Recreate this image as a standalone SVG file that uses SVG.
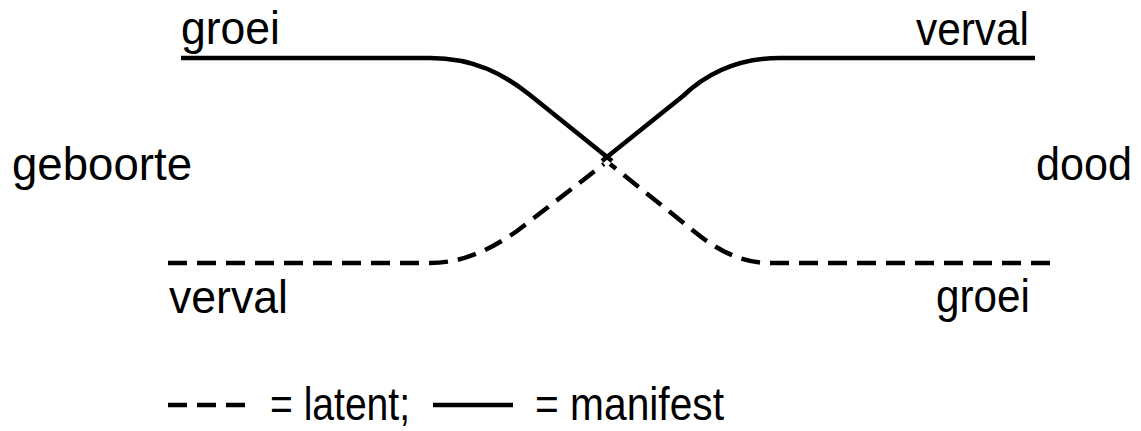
<svg xmlns="http://www.w3.org/2000/svg" width="1141" height="431" viewBox="0 0 1141 431">
<style>
text{font-family:"Liberation Sans",Arial,sans-serif;font-size:47px;fill:#000}
.solid{fill:none;stroke:#000;stroke-width:4.5}
.dash{fill:none;stroke:#000;stroke-width:4.5;stroke-dasharray:19 10}
</style>
<rect width="1141" height="431" fill="#fff"/>
<g id="connectors">
<path class="solid" d="M181,58 H430 C475,58 505,75 530,95 L612,161"/>
<path class="solid" d="M1035,58 H780 C735,58 705,75 683,96 L602,161"/>
<path class="dash" d="M168,263 H430 C462,263 490,250 517,231 L604,164"/>
<path class="dash" d="M1050,263 H770 C745,263 722,253 700,236 L610,164"/>
</g>
<g id="label-groei-top"><text x="181" y="44" textLength="99" lengthAdjust="spacingAndGlyphs">groei</text></g>
<g id="label-verval-top"><text x="916" y="45" textLength="113" lengthAdjust="spacingAndGlyphs">verval</text></g>
<g id="label-geboorte"><text x="12" y="180" textLength="180" lengthAdjust="spacingAndGlyphs">geboorte</text></g>
<g id="label-dood"><text x="1036" y="180" textLength="96" lengthAdjust="spacingAndGlyphs">dood</text></g>
<g id="label-verval-bottom"><text x="169" y="313" textLength="119" lengthAdjust="spacingAndGlyphs">verval</text></g>
<g id="label-groei-bottom"><text x="936" y="312" textLength="94" lengthAdjust="spacingAndGlyphs">groei</text></g>
<g id="legend">
<path class="dash" d="M168,405 H248"/>
<text x="270" y="420" textLength="140" lengthAdjust="spacingAndGlyphs">= latent;</text>
<path class="solid" d="M433,405 H513"/>
<text x="535" y="420" textLength="189" lengthAdjust="spacingAndGlyphs">= manifest</text>
</g>
</svg>
